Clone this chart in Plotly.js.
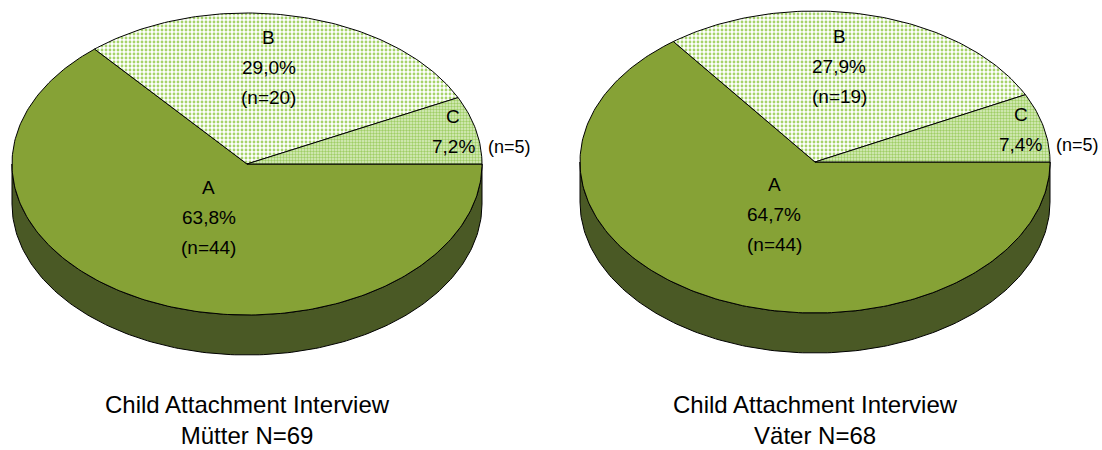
<!DOCTYPE html>
<html>
<head>
<meta charset="utf-8">
<script src="https://cdn.plot.ly/plotly-3.0.1.min.js"></script>
<style>
  html, body { margin: 0; padding: 0; background: #ffffff; }
  #chart { width: 1102px; height: 450px; }
</style>
</head>
<body>
<div id="chart"></div>
<script>
// Attachment classification (Child Attachment Interview), counts per category
const categories = ['A', 'B', 'C'];
const muetterCounts = [44, 20, 5];
const vaeterCounts = [44, 19, 5];
const groupLabels = ['Mütter', 'Väter'];
const captionTitle = 'Child Attachment Interview';

// ---- drawing setup (pixel frame: 1 axis unit = 1 px) ----
const W = 1102, H = 450;
const RX = 235, RY = 151, DEPTH = 40;
const pies = [
  { cx: 247, cy: 164, counts: muetterCounts, group: groupLabels[0] },
  { cx: 815, cy: 162, counts: vaeterCounts,  group: groupLabels[1] }
];
const FONT = 'Liberation Sans, Arial, Helvetica, sans-serif';
const LABEL_SIZE = 19;
const LINE_GAP = 30;
// label anchor as fractions of the radii, per slice (x, y)
const labelPos = [[0.39, 0.39], [0.45, 0.65], [0.9, 0.94]];

const sliceStyle = [
  { fillcolor: '#86a236' },
  { fillcolor: '#ffffff', fillpattern: { shape: '.', bgcolor: '#ffffff', fgcolor: '#a6d36a', size: 4, solidity: 0.4 } },
  { fillcolor: '#cfe8ae', fillpattern: { shape: '.', bgcolor: '#dcefc4', fgcolor: '#a0ce66', size: 3, solidity: 0.5 } }
];
const sideColor = '#4a5925';

function pt(p, t, dy) {
  return [p.cx + RX * Math.cos(t), p.cy + RY * Math.sin(t) + (dy || 0)];
}
function arc(p, t0, t1, dy) {
  const n = Math.max(4, Math.ceil(Math.abs(t1 - t0) / (Math.PI / 180)));
  const xs = [], ys = [];
  for (let i = 0; i <= n; i++) {
    const [x, y] = pt(p, t0 + (t1 - t0) * i / n, dy);
    xs.push(x); ys.push(y);
  }
  return [xs, ys];
}
function fmtPct(v) { return v.toFixed(1).replace('.', ',') + '%'; }

const traces = [];
const annotations = [];

pies.forEach(p => {
  const total = p.counts.reduce((a, b) => a + b, 0);

  // front rim of the disc
  const [tx, ty] = arc(p, 0, Math.PI, 0);
  const [bx, by] = arc(p, Math.PI, 0, DEPTH);
  traces.push({
    type: 'scatter', mode: 'lines', fill: 'toself',
    x: tx.concat(bx, [tx[0]]), y: ty.concat(by, [ty[0]]),
    fillcolor: sideColor, line: { color: '#000000', width: 1 },
    hoverinfo: 'skip', showlegend: false
  });

  // top face slices, clockwise from 3 o'clock
  let acc = 0;
  p.counts.forEach((c, i) => {
    const frac = c / total;
    const t0 = acc * 2 * Math.PI, t1 = (acc + frac) * 2 * Math.PI;
    acc += frac;
    const [ax, ay] = arc(p, t0, t1, 0);
    const tr = Object.assign({
      type: 'scatter', mode: 'lines', fill: 'toself',
      x: [p.cx].concat(ax, [p.cx]), y: [p.cy].concat(ay, [p.cy]),
      line: { color: '#000000', width: 1 },
      hoverinfo: 'skip', showlegend: false
    }, sliceStyle[i]);
    traces.push(tr);

    // labels
    const mid = (t0 + t1) / 2;
    const lx = p.cx + RX * labelPos[i][0] * Math.cos(mid);
    const ly = p.cy + RY * labelPos[i][1] * Math.sin(mid);
    const nText = '(n=' + c + ')';
    const outside = frac < 0.1;
    const lines = outside ? [categories[i], fmtPct(100 * frac)] : [categories[i], fmtPct(100 * frac), nText];
    lines.forEach((s, k) => {
      annotations.push({
        x: lx, y: ly + (k - (lines.length - 1) / 2) * LINE_GAP,
        xref: 'x', yref: 'y', text: s, showarrow: false,
        xanchor: 'center', yanchor: 'middle',
        font: { family: FONT, size: LABEL_SIZE, color: '#000000' }
      });
    });
    if (outside) {
      annotations.push({
        x: p.cx + RX + 4, y: ly + LINE_GAP / 2,
        xref: 'x', yref: 'y', text: nText, showarrow: false,
        xanchor: 'left', yanchor: 'middle',
        font: { family: FONT, size: LABEL_SIZE - 1, color: '#000000' }
      });
    }
  });

  // caption under each pie
  annotations.push({
    x: p.cx, y: 420, xref: 'x', yref: 'y',
    text: captionTitle + '<br>' + p.group + ' N=' + total,
    showarrow: false, xanchor: 'center', yanchor: 'middle', align: 'center',
    font: { family: FONT, size: 24, color: '#000000' }
  });
});

const layout = {
  width: W, height: H,
  margin: { l: 0, r: 0, t: 0, b: 0 },
  paper_bgcolor: '#ffffff', plot_bgcolor: '#ffffff',
  xaxis: { range: [0, W], visible: false, fixedrange: true },
  yaxis: { range: [H, 0], visible: false, fixedrange: true },
  annotations: annotations,
  showlegend: false
};

Plotly.newPlot('chart', traces, layout, { staticPlot: true, displayModeBar: false });
</script>
</body>
</html>
